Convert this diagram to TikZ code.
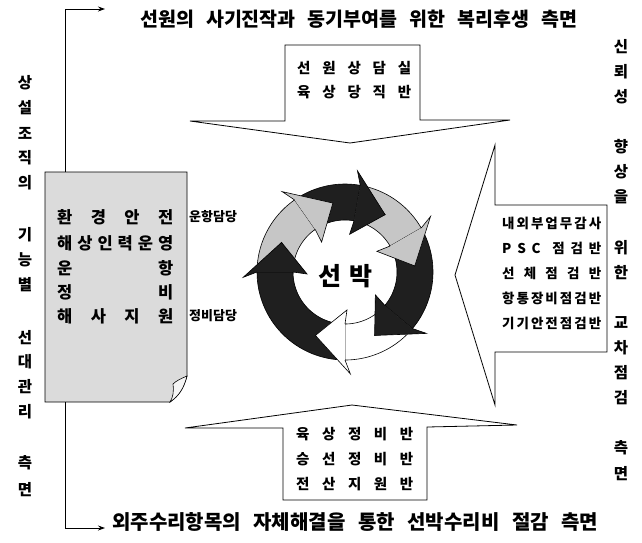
\documentclass[tikz,border=0pt]{standalone}
\usepackage{fontspec}
\setmainfont{Noto Sans CJK KR}
\usetikzlibrary{arrows.meta}
\newcommand\spreadtxt[2]{\makebox[#1][s]{#2}}
\begin{document}
\begin{tikzpicture}[x=1pt,y=-1pt,
  headtxt/.style={inner sep=0pt, anchor=west, font=\fontsize{19.5}{22}\selectfont\bfseries},
  vchar/.style={inner sep=0pt, font=\fontsize{15.5}{18}\selectfont\bfseries},
  doctxt/.style={inner sep=0pt, anchor=west, font=\fontsize{16.5}{19}\selectfont\bfseries},
  boxtxt/.style={inner sep=0pt, anchor=west, font=\fontsize{14.5}{17}\selectfont\bfseries},
  rtxt/.style={inner sep=0pt, anchor=west, font=\fontsize{13.5}{16}\selectfont\bfseries},
  dutytxt/.style={inner sep=0pt, anchor=west, font=\fontsize{13}{15}\selectfont\bfseries},
  shapeline/.style={draw=black, line width=0.8pt},
  conn/.style={draw=black, line width=0.9pt, -{Stealth[length=7pt,width=5pt]}},
  ringline/.style={draw=black, line width=0.6pt}]
\useasboundingbox[fill=white] (0,0) rectangle (642,542);

% ---- top and bottom headings
\node[headtxt] (toptxt) at (140,19) {\spreadtxt{437pt}{선원의 사기진작과 동기부여를 위한 복리후생 측면}};
\node[headtxt, font=\fontsize{20}{22}\selectfont\bfseries] (bottxt) at (112,522) {\spreadtxt{486pt}{외주수리항목의 자체해결을 통한 선박수리비 절감 측면}};

% ---- left vertical text
\foreach \ch/\yy [count=\i] in {상/83,설/108,조/133,직/158,의/183,기/235,능/260,별/285,선/338,대/362,관/387,리/412,측/463,면/490}
  \node[vchar] (lv\i) at (25,\yy) {\ch};
% ---- right vertical text
\foreach \ch/\yy [count=\i] in {신/47,뢰/72,성/97,향/147,상/172,을/197,위/248,한/273,교/323,차/348,점/373,검/398,측/448,면/474}
  \node[vchar] (rv\i) at (621,\yy) {\ch};

% ---- document box (left)
\filldraw[shapeline, fill=gray!28] (45,172) -- (187,172) -- (187,376)
  .. controls (183,390) and (178,396) .. (170,402) -- (45,402) -- cycle;
\filldraw[draw=black, line width=0.6pt, fill=gray!8] (187,376) .. controls (180,379) and (176,381) .. (173,384)
  .. controls (174,392) and (173,397) .. (170,402) .. controls (179,396) and (184,388) .. (187,376) -- cycle;
\coordinate (docN) at (65,172);
\coordinate (docS) at (65,402);
\coordinate (ta) at (105,9);
\coordinate (ba) at (105,528);
\draw[conn] (docN) |- (ta);
\draw[conn] (docS) |- (ba);

\node[doctxt] (d1) at (57,217) {\spreadtxt{116pt}{환\hfill 경\hfill 안\hfill 전}};
\node[doctxt] (d2) at (57,243) {\spreadtxt{116pt}{해\hfill 상\hfill 인\hfill 력\hfill 운\hfill 영}};
\node[doctxt] (d3) at (57,268) {\spreadtxt{116pt}{운\hfill 항}};
\node[doctxt] (d4) at (57,292) {\spreadtxt{116pt}{정\hfill 비}};
\node[doctxt] (d5) at (57,316) {\spreadtxt{116pt}{해\hfill 사\hfill 지\hfill 원}};
\node[dutytxt] (duty1) at (189,217) {운항담당};
\node[dutytxt] (duty2) at (189,316) {정비담당};

% ---- top arrow (pointing down)
\filldraw[shapeline, fill=white] (285,45) -- (420,45) -- (420,120) -- (510,120) -- (350,143)
  -- (190,121) -- (285,121) -- cycle;
\node[boxtxt] (t1) at (297,68) {\spreadtxt{114pt}{선\hfill 원\hfill 상\hfill 담\hfill 실}};
\node[boxtxt] (t2) at (297,92) {\spreadtxt{114pt}{육\hfill 상\hfill 당\hfill 직\hfill 반}};

% ---- bottom arrow (pointing up)
\filldraw[shapeline, fill=white] (283,500) -- (427,500) -- (427,427) -- (517,425) -- (352,405)
  -- (185,428) -- (283,428) -- cycle;
\node[boxtxt] (b1) at (296,434) {\spreadtxt{117pt}{육\hfill 상\hfill 정\hfill 비\hfill 반}};
\node[boxtxt] (b2) at (296,459) {\spreadtxt{117pt}{승\hfill 선\hfill 정\hfill 비\hfill 반}};
\node[boxtxt] (b3) at (296,484) {\spreadtxt{117pt}{전\hfill 산\hfill 지\hfill 원\hfill 반}};

% ---- right arrow (pointing left)
\filldraw[shapeline, fill=white] (495,205) -- (607,205) -- (607,352) -- (495,352) -- (495,405)
  -- (455,275) -- (495,145) -- cycle;
\node[rtxt] (r1) at (502,223) {\spreadtxt{99pt}{내\hfill 외\hfill 부\hfill 업\hfill 무\hfill 감\hfill 사}};
\node[rtxt] (r2) at (502,248) {\spreadtxt{99pt}{P\hfill S\hfill C\hfill\hfill 점\hfill 검\hfill 반}};
\node[rtxt] (r3) at (502,273) {\spreadtxt{99pt}{선\hfill 체\hfill 점\hfill 검\hfill 반}};
\node[rtxt] (r4) at (502,298) {\spreadtxt{99pt}{항\hfill 통\hfill 장\hfill 비\hfill 점\hfill 검\hfill 반}};
\node[rtxt] (r5) at (502,323) {\spreadtxt{99pt}{기\hfill 기\hfill 안\hfill 전\hfill 점\hfill 검\hfill 반}};

% ---- central cycle ring: a=start, p=previous tip, b=head base, t=tip
\begin{scope}[shift={(345,272)}]
  \foreach \a/\p/\b/\t/\c in {270/245/180/155/black!88, 180/155/125/100/gray!45, 125/100/80/55/black!88,
                               80/55/30/5/gray!45, 30/5/-40/-65/black!88, -40/-65/-90/-115/white}
    \filldraw[ringline, fill=\c] plot[domain=\a:\b, samples=30] (\x:88pt) -- (\b:52pt)
      -- plot[domain=\b:\a, samples=30] (\x:52pt) -- (\p:70pt) -- cycle;
  \foreach \b/\t/\c in {180/155/black!88, 125/100/gray!45, 80/55/black!88, 30/5/gray!45, -40/-65/black!88, -90/-115/white}
    \filldraw[ringline, fill=\c] (\b:88pt) -- (\b+3:102pt) -- (\t:70pt) -- (\b+3:38pt) -- (\b:52pt);
  \node[inner sep=0pt, font=\fontsize{25}{28}\selectfont\bfseries] (ship) at (0,4) {선\hspace{8pt}박};
\end{scope}
\end{tikzpicture}
\end{document}
